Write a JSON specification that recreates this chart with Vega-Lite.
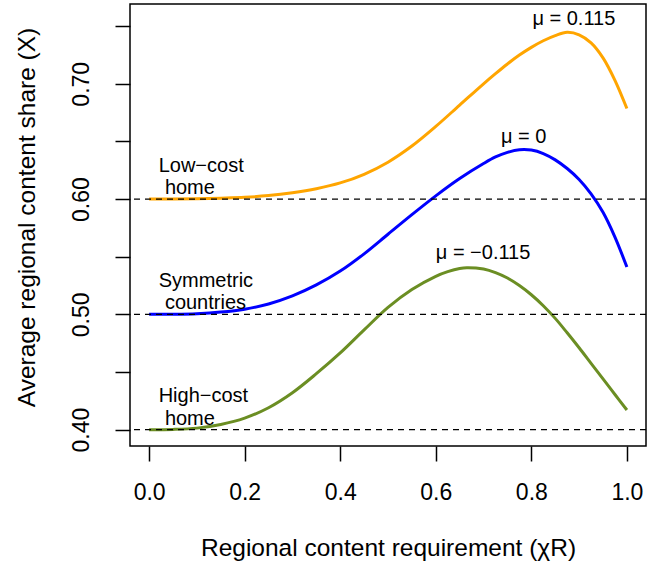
{
  "$schema": "https://vega.github.io/schema/vega-lite/v6.json",
  "width": 516,
  "height": 442,
  "autosize": {"type": "none"},
  "padding": {"left": 130, "top": 4, "right": 2, "bottom": 121},
  "background": "white",
  "config": {
    "font": "Liberation Sans",
    "view": {"stroke": "black", "strokeWidth": 1.5},
    "axis": {
      "domain": false,
      "grid": false,
      "tickSize": 15,
      "tickWidth": 1.5,
      "tickColor": "black",
      "labelFontSize": 23,
      "labelColor": "black",
      "labelOverlap": false,
      "labelFlush": false,
      "labelBound": false,
      "titleFontSize": 24.5,
      "titleFontWeight": "normal",
      "titleColor": "black"
    }
  },
  "datasets": {
    "curves": [
      {"x": 0.00, "share": 0.6000, "series": "Low-cost home"},
      {"x": 0.05, "share": 0.6000, "series": "Low-cost home"},
      {"x": 0.10, "share": 0.6003, "series": "Low-cost home"},
      {"x": 0.15, "share": 0.6008, "series": "Low-cost home"},
      {"x": 0.20, "share": 0.6015, "series": "Low-cost home"},
      {"x": 0.25, "share": 0.6030, "series": "Low-cost home"},
      {"x": 0.30, "share": 0.6055, "series": "Low-cost home"},
      {"x": 0.35, "share": 0.6090, "series": "Low-cost home"},
      {"x": 0.40, "share": 0.6140, "series": "Low-cost home"},
      {"x": 0.45, "share": 0.6215, "series": "Low-cost home"},
      {"x": 0.50, "share": 0.6320, "series": "Low-cost home"},
      {"x": 0.55, "share": 0.6460, "series": "Low-cost home"},
      {"x": 0.60, "share": 0.6630, "series": "Low-cost home"},
      {"x": 0.65, "share": 0.6815, "series": "Low-cost home"},
      {"x": 0.70, "share": 0.7000, "series": "Low-cost home"},
      {"x": 0.725, "share": 0.7088, "series": "Low-cost home"},
      {"x": 0.75, "share": 0.7172, "series": "Low-cost home"},
      {"x": 0.775, "share": 0.7249, "series": "Low-cost home"},
      {"x": 0.80, "share": 0.7316, "series": "Low-cost home"},
      {"x": 0.825, "share": 0.7373, "series": "Low-cost home"},
      {"x": 0.85, "share": 0.7418, "series": "Low-cost home"},
      {"x": 0.875, "share": 0.7446, "series": "Low-cost home"},
      {"x": 0.90, "share": 0.7425, "series": "Low-cost home"},
      {"x": 0.925, "share": 0.7355, "series": "Low-cost home"},
      {"x": 0.95, "share": 0.7225, "series": "Low-cost home"},
      {"x": 0.975, "share": 0.7030, "series": "Low-cost home"},
      {"x": 1.00, "share": 0.6785, "series": "Low-cost home"},

      {"x": 0.00, "share": 0.5000, "series": "Symmetric countries"},
      {"x": 0.05, "share": 0.5001, "series": "Symmetric countries"},
      {"x": 0.10, "share": 0.5006, "series": "Symmetric countries"},
      {"x": 0.15, "share": 0.5020, "series": "Symmetric countries"},
      {"x": 0.20, "share": 0.5045, "series": "Symmetric countries"},
      {"x": 0.25, "share": 0.5090, "series": "Symmetric countries"},
      {"x": 0.30, "share": 0.5160, "series": "Symmetric countries"},
      {"x": 0.35, "share": 0.5255, "series": "Symmetric countries"},
      {"x": 0.40, "share": 0.5375, "series": "Symmetric countries"},
      {"x": 0.45, "share": 0.5525, "series": "Symmetric countries"},
      {"x": 0.50, "share": 0.5695, "series": "Symmetric countries"},
      {"x": 0.55, "share": 0.5865, "series": "Symmetric countries"},
      {"x": 0.60, "share": 0.6028, "series": "Symmetric countries"},
      {"x": 0.65, "share": 0.6178, "series": "Symmetric countries"},
      {"x": 0.70, "share": 0.6308, "series": "Symmetric countries"},
      {"x": 0.725, "share": 0.6365, "series": "Symmetric countries"},
      {"x": 0.75, "share": 0.6405, "series": "Symmetric countries"},
      {"x": 0.775, "share": 0.6428, "series": "Symmetric countries"},
      {"x": 0.80, "share": 0.6425, "series": "Symmetric countries"},
      {"x": 0.825, "share": 0.6395, "series": "Symmetric countries"},
      {"x": 0.85, "share": 0.6340, "series": "Symmetric countries"},
      {"x": 0.875, "share": 0.6265, "series": "Symmetric countries"},
      {"x": 0.90, "share": 0.6170, "series": "Symmetric countries"},
      {"x": 0.925, "share": 0.6045, "series": "Symmetric countries"},
      {"x": 0.95, "share": 0.5885, "series": "Symmetric countries"},
      {"x": 0.975, "share": 0.5670, "series": "Symmetric countries"},
      {"x": 1.00, "share": 0.5410, "series": "Symmetric countries"},

      {"x": 0.00, "share": 0.4000, "series": "High-cost home"},
      {"x": 0.05, "share": 0.4002, "series": "High-cost home"},
      {"x": 0.10, "share": 0.4013, "series": "High-cost home"},
      {"x": 0.15, "share": 0.4045, "series": "High-cost home"},
      {"x": 0.20, "share": 0.4100, "series": "High-cost home"},
      {"x": 0.25, "share": 0.4190, "series": "High-cost home"},
      {"x": 0.30, "share": 0.4320, "series": "High-cost home"},
      {"x": 0.35, "share": 0.4485, "series": "High-cost home"},
      {"x": 0.40, "share": 0.4665, "series": "High-cost home"},
      {"x": 0.45, "share": 0.4865, "series": "High-cost home"},
      {"x": 0.50, "share": 0.5060, "series": "High-cost home"},
      {"x": 0.55, "share": 0.5215, "series": "High-cost home"},
      {"x": 0.60, "share": 0.5330, "series": "High-cost home"},
      {"x": 0.625, "share": 0.5370, "series": "High-cost home"},
      {"x": 0.65, "share": 0.5398, "series": "High-cost home"},
      {"x": 0.665, "share": 0.5405, "series": "High-cost home"},
      {"x": 0.70, "share": 0.5393, "series": "High-cost home"},
      {"x": 0.725, "share": 0.5362, "series": "High-cost home"},
      {"x": 0.75, "share": 0.5315, "series": "High-cost home"},
      {"x": 0.775, "share": 0.5250, "series": "High-cost home"},
      {"x": 0.80, "share": 0.5170, "series": "High-cost home"},
      {"x": 0.825, "share": 0.5075, "series": "High-cost home"},
      {"x": 0.85, "share": 0.4965, "series": "High-cost home"},
      {"x": 0.875, "share": 0.4840, "series": "High-cost home"},
      {"x": 0.90, "share": 0.4710, "series": "High-cost home"},
      {"x": 0.925, "share": 0.4575, "series": "High-cost home"},
      {"x": 0.95, "share": 0.4440, "series": "High-cost home"},
      {"x": 0.975, "share": 0.4305, "series": "High-cost home"},
      {"x": 1.00, "share": 0.4170, "series": "High-cost home"}
    ],
    "levels": [
      {"level": 0.6},
      {"level": 0.5},
      {"level": 0.4}
    ],
    "groupNotes": [
      {"x": 0.020, "y": 0.6289, "label": "Low\u2212cost"},
      {"x": 0.033, "y": 0.6100, "label": "home"},
      {"x": 0.020, "y": 0.5286, "label": "Symmetric"},
      {"x": 0.033, "y": 0.5095, "label": "countries"},
      {"x": 0.020, "y": 0.4291, "label": "High\u2212cost"},
      {"x": 0.033, "y": 0.4092, "label": "home"}
    ],
    "muNotes": [
      {"x": 0.889, "y": 0.7558, "label": "\u03bc = 0.115"},
      {"x": 0.784, "y": 0.6534, "label": "\u03bc = 0"},
      {"x": 0.699, "y": 0.553, "label": "\u03bc = \u22120.115"}
    ]
  },
  "layer": [
    {
      "data": {"name": "curves"},
      "mark": {"type": "line", "strokeWidth": 3, "interpolate": "catmull-rom"},
      "encoding": {
        "x": {
          "field": "x",
          "type": "quantitative",
          "scale": {"domain": [-0.04, 1.04], "nice": false, "zero": false},
          "axis": {
            "values": [0, 0.2, 0.4, 0.6, 0.8, 1.0],
            "format": ".1f",
            "labelPadding": 20,
            "labelBaseline": "top",
            "labelAlign": "center",
            "title": "Regional content requirement (\u03c7R)",
            "titleBaseline": "alphabetic",
            "titleAlign": "center",
            "titleX": 258,
            "titleY": 109.5
          }
        },
        "y": {
          "field": "share",
          "type": "quantitative",
          "scale": {"domain": [0.3858, 0.7692], "nice": false, "zero": false},
          "axis": {
            "values": [0.4, 0.45, 0.5, 0.55, 0.6, 0.65, 0.7, 0.75],
            "format": ".2f",
            "labelExpr": "indexof(['0.40', '0.50', '0.60', '0.70'], datum.label) >= 0 ? datum.label : ''",
            "labelAngle": -90,
            "labelAlign": "center",
            "labelBaseline": "bottom",
            "labelPadding": 22,
            "title": "Average regional content share (X)",
            "titleAngle": -90,
            "titleBaseline": "alphabetic",
            "titleAlign": "center",
            "titleX": -96,
            "titleY": 213
          }
        },
        "color": {
          "field": "series",
          "type": "nominal",
          "scale": {
            "domain": ["Low-cost home", "Symmetric countries", "High-cost home"],
            "range": ["#FFA500", "#0000FF", "#6B8E23"]
          },
          "legend": null
        }
      }
    },
    {
      "data": {"name": "levels"},
      "mark": {"type": "rule", "color": "black", "strokeWidth": 1.3, "strokeDash": [6, 5]},
      "encoding": {
        "y": {"field": "level", "type": "quantitative"}
      }
    },
    {
      "data": {"name": "groupNotes"},
      "mark": {
        "type": "text",
        "align": "left",
        "baseline": "middle",
        "fontSize": 20,
        "color": "black"
      },
      "encoding": {
        "x": {"field": "x", "type": "quantitative"},
        "y": {"field": "y", "type": "quantitative"},
        "text": {"field": "label", "type": "nominal"}
      }
    },
    {
      "data": {"name": "muNotes"},
      "mark": {
        "type": "text",
        "align": "center",
        "baseline": "middle",
        "fontSize": 20,
        "color": "black"
      },
      "encoding": {
        "x": {"field": "x", "type": "quantitative"},
        "y": {"field": "y", "type": "quantitative"},
        "text": {"field": "label", "type": "nominal"}
      }
    }
  ]
}
